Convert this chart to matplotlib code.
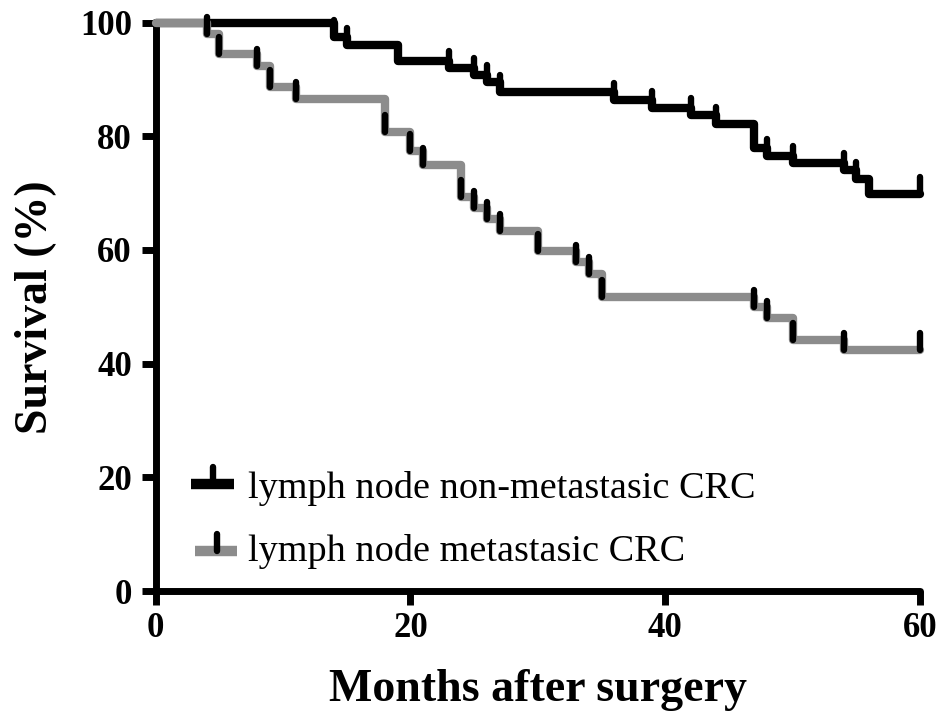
import matplotlib
matplotlib.use("Agg")
import matplotlib.pyplot as plt
from matplotlib.markers import MarkerStyle
from matplotlib.path import Path

# Kaplan-Meier steps (months, survival %)
non_met_t = [0, 14, 15, 19, 23, 25, 26, 27, 36, 39, 42, 44, 47, 48, 50, 54, 55, 56, 60]
non_met_s = [100, 97.5, 96.0, 93.2, 92.0, 90.8, 89.5, 87.8, 86.4, 85.0, 83.7, 82.2,
             78.0, 76.6, 75.3, 74.0, 72.5, 69.9, 69.9]
non_met_cens = [14, 15, 23, 25, 26, 27, 36, 39, 42, 44, 48, 50, 54, 55, 60]

met_t = [0, 4, 5, 8, 9, 11, 18, 20, 21, 24, 25, 26, 27, 30, 33, 34, 35, 47, 48, 50, 54, 60]
met_s = [100, 98.0, 94.5, 92.4, 88.6, 86.6, 80.7, 77.5, 75.0, 69.3, 67.3, 65.5, 63.4,
         59.9, 57.9, 55.8, 51.7, 50.0, 48.1, 44.2, 42.4, 42.4]
met_cens = [4, 5, 8, 9, 11, 18, 20, 21, 24, 25, 26, 27, 30, 33, 34, 35, 47, 48, 50, 54, 60]

labels = ["lymph node non-metastasic CRC", "lymph node metastasic CRC"]
x_ticks = [0, 20, 40, 60]
y_ticks = [0, 20, 40, 60, 80, 100]

BLACK, GREY = "#000000", "#8c8c8c"
LW = 6.0
SERIF = ["Liberation Serif", "DejaVu Serif"]

# upward censor tick, starting at the data point
tick_marker = MarkerStyle(Path([(0, 0), (0, 1)]), capstyle="round")
TICK = dict(ls="none", marker=tick_marker, ms=24, mew=4.6, mec=BLACK, clip_on=False, zorder=5)


def level_at(ts, ss, t):
    v = ss[0]
    for ti, si in zip(ts, ss):
        if ti <= t:
            v = si
    return v


fig = plt.figure(figsize=(9.45, 7.25), dpi=100)
ax = fig.add_axes([0.1646, 0.1848, 0.809, 0.784])

ax.step(non_met_t, non_met_s, where="post", color=BLACK, lw=LW,
        solid_joinstyle="round", solid_capstyle="round", clip_on=False, zorder=3)
ax.step(met_t, met_s, where="post", color=GREY, lw=LW,
        solid_joinstyle="round", solid_capstyle="round", clip_on=False, zorder=4)

ax.plot(non_met_cens, [level_at(non_met_t, non_met_s, c) for c in non_met_cens], **TICK)
ax.plot(met_cens, [level_at(met_t, met_s, c) for c in met_cens], **TICK)

ax.set_xlim(0, 60)
ax.set_ylim(0, 100)
ax.set_xticks(x_ticks)
ax.set_yticks(y_ticks)
for s in ["top", "right"]:
    ax.spines[s].set_visible(False)
for s in ["left", "bottom"]:
    ax.spines[s].set_linewidth(5)
    ax.spines[s].set_capstyle("round")
ax.tick_params(width=5, length=10, direction="out")
ax.tick_params(axis="x", pad=5)
ax.tick_params(axis="y", pad=7)
for lab in ax.get_xticklabels() + ax.get_yticklabels():
    lab.set_family(SERIF)
    lab.set_fontweight("bold")
    lab.set_fontsize(25)

ax.set_xlabel("Months after surgery", family=SERIF, fontweight="bold", fontsize=33)
ax.set_ylabel("Survival (%)", family=SERIF, fontweight="bold", fontsize=33)
ax.xaxis.set_label_coords(0.5, -0.138)
ax.yaxis.set_label_coords(-0.129, 0.5)

# legend drawn by hand: bar + upward censor tick + text
leg = [(BLACK, 0.046, 0.102, 0.188, 0.0748, 0.163),
       (GREY, 0.052, 0.107, 0.0704, 0.080, 0.0528)]
for (col, x0, x1, yb, xt, ybase), lab in zip(leg, labels):
    ax.plot([x0, x1], [yb, yb], color=col, lw=7.5, solid_capstyle="butt",
            transform=ax.transAxes, clip_on=False, zorder=6)
    ax.plot([xt], [yb], transform=ax.transAxes, **dict(TICK, zorder=7))
    ax.text(0.121, ybase, lab, transform=ax.transAxes, family=SERIF,
            fontsize=27.5, va="baseline", ha="left")

fig.savefig("out.png", dpi=100)
